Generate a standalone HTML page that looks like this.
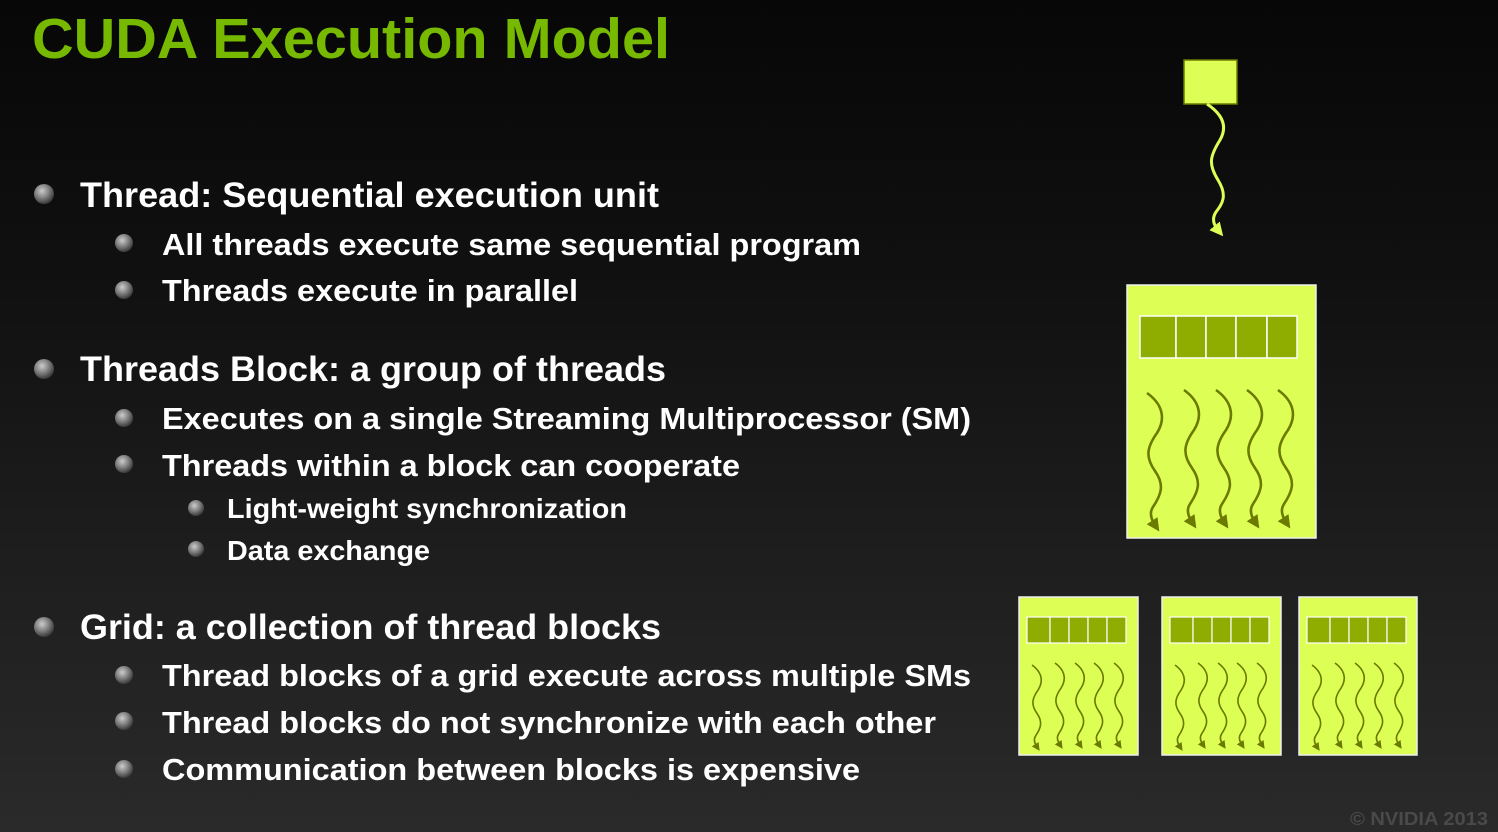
<!DOCTYPE html>
<html><head><meta charset="utf-8"><style>
html,body{margin:0;padding:0;}
body{width:1498px;height:832px;overflow:hidden;background:linear-gradient(#070707 0%,#111 35%,#1f1f1f 70%,#2a2a2a 100%);}
svg{display:block}
text{font-family:"Liberation Sans",Arial,sans-serif;font-weight:bold;}
</style></head><body>
<svg width="1498" height="832" viewBox="0 0 1498 832" xmlns="http://www.w3.org/2000/svg">
<defs>
<radialGradient id="bul" cx="40%" cy="35%" r="65%">
<stop offset="0" stop-color="#ccc"/><stop offset="0.6" stop-color="#777"/><stop offset="1" stop-color="#3a3a3a"/>
</radialGradient>
<marker id="ah" viewBox="0 0 10 10" refX="4" refY="5" markerWidth="5" markerHeight="5" orient="auto">
<path d="M0,0 L10,5 L0,10 z" fill="#6b7a00"/></marker>
<marker id="ahy" viewBox="0 0 10 10" refX="4" refY="5" markerWidth="4.5" markerHeight="4.5" orient="auto">
<path d="M0,0 L10,5 L0,10 z" fill="#ddff55"/></marker>
<path id="sq" d="M0,0 C14,10 20,24 10,40 C0,54 -2,64 8,78 C18,92 14,102 6,114 C2,120 4,126 8,132" fill="none" stroke="#6b7a00" stroke-width="2.6" marker-end="url(#ah)"/>
</defs>

<text x="32" y="58" font-size="57" fill="#76b900" textLength="638" lengthAdjust="spacingAndGlyphs">CUDA Execution Model</text>

<g fill="url(#bul)">
<circle cx="44" cy="194" r="10"/><circle cx="124" cy="243" r="9"/><circle cx="124" cy="290" r="9"/>
<circle cx="44" cy="369" r="10"/><circle cx="124" cy="418" r="9"/><circle cx="124" cy="464" r="9"/>
<circle cx="196" cy="508" r="8"/><circle cx="196" cy="549" r="8"/>
<circle cx="44" cy="627" r="10"/><circle cx="124" cy="675" r="9"/><circle cx="124" cy="721" r="9"/><circle cx="124" cy="769" r="9"/>
</g>
<g fill="#fff">
<text x="80" y="207" font-size="35" textLength="579" lengthAdjust="spacingAndGlyphs">Thread: Sequential execution unit</text>
<text x="162" y="255" font-size="31" textLength="699" lengthAdjust="spacingAndGlyphs">All threads execute same sequential program</text>
<text x="162" y="301" font-size="31" textLength="416" lengthAdjust="spacingAndGlyphs">Threads execute in parallel</text>
<text x="80" y="381" font-size="35" textLength="586" lengthAdjust="spacingAndGlyphs">Threads Block: a group of threads</text>
<text x="162" y="429" font-size="31" textLength="809" lengthAdjust="spacingAndGlyphs">Executes on a single Streaming Multiprocessor (SM)</text>
<text x="162" y="476" font-size="31" textLength="578" lengthAdjust="spacingAndGlyphs">Threads within a block can cooperate</text>
<text x="227" y="518" font-size="28" textLength="400" lengthAdjust="spacingAndGlyphs">Light-weight synchronization</text>
<text x="227" y="560" font-size="28" textLength="203" lengthAdjust="spacingAndGlyphs">Data exchange</text>
<text x="80" y="639" font-size="35" textLength="581" lengthAdjust="spacingAndGlyphs">Grid: a collection of thread blocks</text>
<text x="162" y="686" font-size="31" textLength="809" lengthAdjust="spacingAndGlyphs">Thread blocks of a grid execute across multiple SMs</text>
<text x="162" y="733" font-size="31" textLength="774" lengthAdjust="spacingAndGlyphs">Thread blocks do not synchronize with each other</text>
<text x="162" y="780" font-size="31" textLength="698" lengthAdjust="spacingAndGlyphs">Communication between blocks is expensive</text>
</g>
<text x="1350" y="825" font-size="18" fill="#4a4a4a" textLength="138" lengthAdjust="spacingAndGlyphs">© NVIDIA 2013</text>

<!-- single thread -->
<rect x="1184" y="60" width="53" height="44" fill="#ddff55" stroke="#6b7a00" stroke-width="1.5"/>
<path d="M1207,104 C1222,114 1228,126 1220,140 C1210,156 1208,164 1218,180 C1228,196 1222,204 1216,212 C1212,218 1213,224 1218,230" fill="none" stroke="#ddff55" stroke-width="3" marker-end="url(#ahy)"/>

<!-- big block -->
<rect x="1127" y="285" width="189" height="253" fill="#ddff55" stroke="#eee" stroke-width="1.5"/>
<g fill="#8fac00" stroke="#fff" stroke-width="1.5">
<rect x="1140" y="316" width="36" height="42"/><rect x="1176" y="316" width="30" height="42"/><rect x="1206" y="316" width="30" height="42"/><rect x="1236" y="316" width="31" height="42"/><rect x="1267" y="316" width="30" height="42"/>
</g>
<use href="#sq" transform="translate(1147,393)"/>
<use href="#sq" transform="translate(1184,390)"/>
<use href="#sq" transform="translate(1216,390)"/>
<use href="#sq" transform="translate(1247,390)"/>
<use href="#sq" transform="translate(1278,390)"/>

<!-- small blocks -->
<g>
<rect x="1019" y="597" width="119" height="158" fill="#ddff55" stroke="#eee" stroke-width="1.5"/>
<g fill="#8fac00" stroke="#fff" stroke-width="1.2"><rect x="1027" y="617" width="23" height="26"/><rect x="1050" y="617" width="19" height="26"/><rect x="1069" y="617" width="19" height="26"/><rect x="1088" y="617" width="19" height="26"/><rect x="1107" y="617" width="19" height="26"/></g>
<use href="#sq" transform="translate(1032,665) scale(0.62)"/><use href="#sq" transform="translate(1055,663) scale(0.62)"/><use href="#sq" transform="translate(1075,663) scale(0.62)"/><use href="#sq" transform="translate(1094,663) scale(0.62)"/><use href="#sq" transform="translate(1114,663) scale(0.62)"/>
</g>
<g transform="translate(143,0)">
<rect x="1019" y="597" width="119" height="158" fill="#ddff55" stroke="#eee" stroke-width="1.5"/>
<g fill="#8fac00" stroke="#fff" stroke-width="1.2"><rect x="1027" y="617" width="23" height="26"/><rect x="1050" y="617" width="19" height="26"/><rect x="1069" y="617" width="19" height="26"/><rect x="1088" y="617" width="19" height="26"/><rect x="1107" y="617" width="19" height="26"/></g>
<use href="#sq" transform="translate(1032,665) scale(0.62)"/><use href="#sq" transform="translate(1055,663) scale(0.62)"/><use href="#sq" transform="translate(1075,663) scale(0.62)"/><use href="#sq" transform="translate(1094,663) scale(0.62)"/><use href="#sq" transform="translate(1114,663) scale(0.62)"/>
</g>
<g transform="translate(280,0)">
<rect x="1019" y="597" width="118" height="158" fill="#ddff55" stroke="#eee" stroke-width="1.5"/>
<g fill="#8fac00" stroke="#fff" stroke-width="1.2"><rect x="1027" y="617" width="23" height="26"/><rect x="1050" y="617" width="19" height="26"/><rect x="1069" y="617" width="19" height="26"/><rect x="1088" y="617" width="19" height="26"/><rect x="1107" y="617" width="19" height="26"/></g>
<use href="#sq" transform="translate(1032,665) scale(0.62)"/><use href="#sq" transform="translate(1055,663) scale(0.62)"/><use href="#sq" transform="translate(1075,663) scale(0.62)"/><use href="#sq" transform="translate(1094,663) scale(0.62)"/><use href="#sq" transform="translate(1114,663) scale(0.62)"/>
</g>
</svg>
</body></html>
